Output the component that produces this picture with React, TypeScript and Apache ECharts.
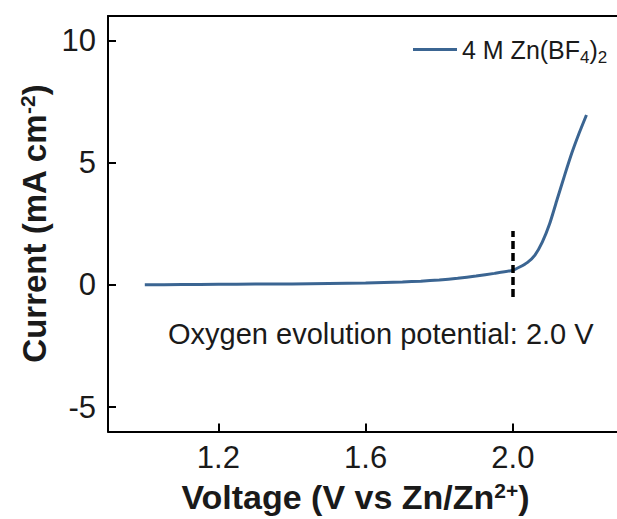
import React, { useEffect, useRef } from "react";
import * as echarts from "echarts";

// Linear sweep voltammetry of 4 M Zn(BF4)2
const voltage = [1.0, 1.1, 1.2, 1.3, 1.4, 1.5, 1.6, 1.7, 1.75, 1.8, 1.85, 1.9, 1.95, 2.0, 2.02, 2.04, 2.06, 2.08, 2.1, 2.12, 2.14, 2.16, 2.18, 2.2];
const current = [0.0, 0.01, 0.02, 0.03, 0.04, 0.06, 0.08, 0.12, 0.15, 0.2, 0.27, 0.36, 0.47, 0.6, 0.74, 0.92, 1.22, 1.75, 2.5, 3.48, 4.45, 5.38, 6.2, 6.95];

const xTicks = [1.2, 1.6, 2.0];
const yTicks = [-5, 0, 5, 10];

const onsetVoltage = 2.0;
const onsetMarker = [-0.5, 2.2];

const seriesName = "4 M Zn(BF4)2";
const annotation = "Oxygen evolution potential: 2.0 V";

const FONT = "Arial, 'Liberation Sans', sans-serif";
const INK = "#1a1a1a";
const LINE = "#3b6592";

export default function App() {
  const ref = useRef<HTMLDivElement>(null);

  useEffect(() => {
    document.body.style.margin = "0";
    const chart = echarts.init(ref.current!, undefined, { renderer: "svg" });
    const axisLine = { show: true, onZero: false, lineStyle: { color: "#000", width: 2 } };

    chart.setOption({
      animation: false,
      backgroundColor: "#fff",
      textStyle: { fontFamily: FONT },
      grid: { left: 108, right: 0, top: 16, bottom: 87, containLabel: false },
      legend: {
        left: 408,
        top: 32,
        itemWidth: 44,
        itemHeight: 3,
        icon: "rect",
        data: [{ name: seriesName, itemStyle: { color: LINE } }],
        formatter: () => "{n|4 M Zn(BF}{s|4}{n|)}{s|2}",
        textStyle: {
          color: INK,
          rich: {
            n: { fontSize: 25, fontFamily: FONT, color: INK },
            s: { fontSize: 17, fontFamily: FONT, color: INK, padding: [16, 0, 0, 0] },
          },
        },
      },
      xAxis: [
        {
          type: "value",
          min: 0.9,
          max: 2.283,
          axisLine,
          splitLine: { show: false },
          axisTick: { show: true, inside: true, length: 8, customValues: xTicks, lineStyle: { color: "#000", width: 2 } },
          axisLabel: {
            customValues: xTicks,
            formatter: (v: number) => v.toFixed(1),
            fontSize: 31,
            color: INK,
            margin: 10,
          },
          name: "{b|Voltage (V vs Zn/Zn}{sup|2+}{b|)}",
          nameLocation: "middle",
          nameGap: 48,
          nameTextStyle: {
            padding: [0, 14, 0, 0],
            rich: {
              b: { fontSize: 34, fontWeight: "bold", fontFamily: FONT, color: INK },
              sup: { fontSize: 21, fontWeight: "bold", fontFamily: FONT, color: INK, padding: [0, 0, 14, 0] },
            },
          },
        },
        {
          type: "value",
          position: "top",
          min: 0.9,
          max: 2.283,
          axisLine,
          axisTick: { show: false },
          axisLabel: { show: false },
          splitLine: { show: false },
        },
      ],
      yAxis: {
        type: "value",
        min: -6,
        max: 11,
        axisLine,
        splitLine: { show: false },
        axisTick: { show: true, inside: true, length: 8, customValues: yTicks, lineStyle: { color: "#000", width: 2 } },
        axisLabel: { customValues: yTicks, fontSize: 31, color: INK, margin: 12 },
        name: "{b|Current (mA cm}{sup|-2}{b|)}",
        nameLocation: "middle",
        nameRotate: 90,
        nameGap: 47,
        nameTextStyle: {
          rich: {
            b: { fontSize: 33, fontWeight: "bold", fontFamily: FONT, color: INK },
            sup: { fontSize: 21, fontWeight: "bold", fontFamily: FONT, color: INK, padding: [0, 0, 14, 0] },
          },
        },
      },
      series: [
        {
          name: seriesName,
          type: "line",
          data: voltage.map((v, i) => [v, current[i]]),
          symbol: "none",
          smooth: 0.2,
          lineStyle: { color: LINE, width: 3 },
          itemStyle: { color: LINE },
          markLine: {
            silent: true,
            symbol: "none",
            label: { show: false },
            lineStyle: { color: "#000", width: 3.5, type: [8, 4] },
            data: [[{ coord: [onsetVoltage, onsetMarker[0]] }, { coord: [onsetVoltage, onsetMarker[1]] }]],
          },
        },
      ],
      graphic: [
        {
          type: "text",
          left: 168,
          top: 319,
          style: { text: annotation, font: `29px ${FONT}`, fill: INK },
        },
      ],
    });

    return () => chart.dispose();
  }, []);

  return <div ref={ref} style={{ width: 617, height: 519 }} />;
}
